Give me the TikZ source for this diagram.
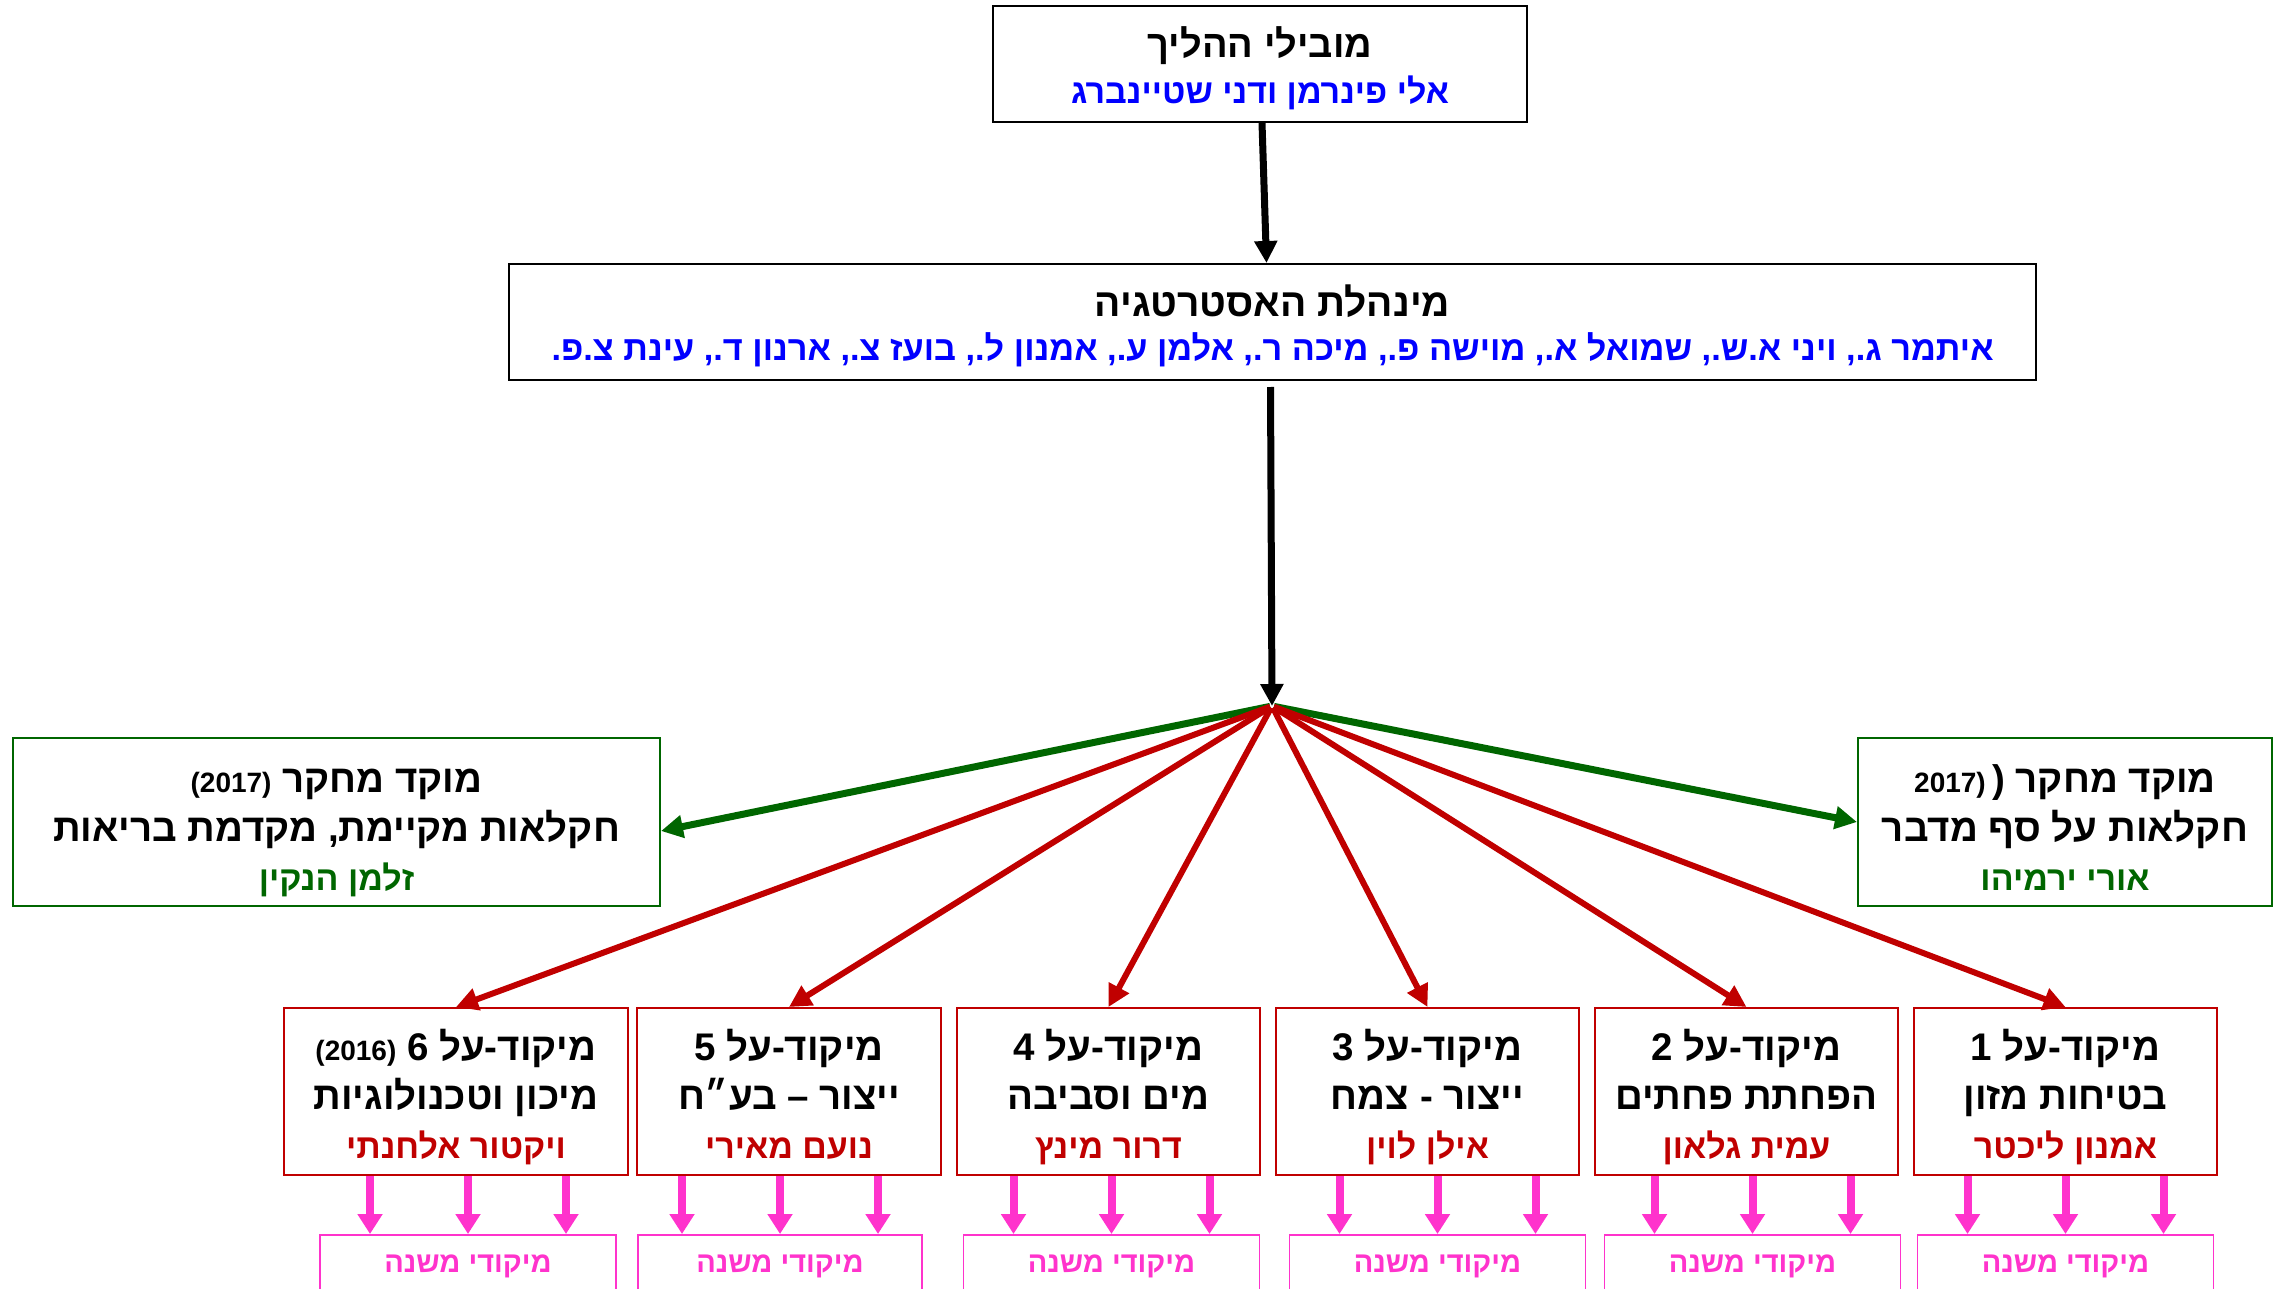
\documentclass[tikz,border=0pt]{standalone}
\usepackage{fontspec}
\setmainfont{Liberation Sans}[Script=Hebrew]
\TeXXeTstate=1
\usetikzlibrary{positioning,arrows.meta}
\definecolor{nameblue}{RGB}{0,0,255}
\definecolor{resgreen}{RGB}{0,102,0}
\definecolor{focred}{RGB}{192,0,0}
\definecolor{subpink}{RGB}{255,51,204}
\newcommand{\hebl}[1]{\beginR#1\endR}
\newcommand{\numl}[1]{\beginL#1\endL{}}
\newcommand{\fs}[2]{\fontsize{#1}{#2}\selectfont}
\newcommand{\hup}[1]{\rule{0pt}{#1pt}}
\newcommand{\hdn}[1]{\rule[-#1pt]{0pt}{#1pt}}

\begin{document}
\begin{tikzpicture}[x=1pt,y=1pt,>={Triangle[length=22pt,width=22pt]},
    box/.style={draw,rectangle,align=center,inner sep=0pt,line width=2pt,font=\fs{38.5}{49}\bfseries},
    head box/.style={box,minimum width=534pt,minimum height=116pt,font=\fs{38}{46}\bfseries},
    board box/.style={box,minimum width=1527pt,minimum height=116pt,font=\fs{39}{44}\bfseries},
    research box/.style={box,draw=resgreen,minimum height=168pt},
    focus box/.style={box,draw=focred,minimum width=303pt,minimum height=167pt},
    sub box/.style={box,draw=subpink,text=subpink,line width=1.6pt,minimum width=296pt,minimum height=64pt,font=\fs{29}{35}\bfseries},
    main arrow/.style={->,line width=7pt},
    green arrow/.style={->,line width=7pt,draw=resgreen,shorten <=2pt},
    red arrow/.style={->,line width=6pt,draw=focred,shorten <=2pt},
    sub arrow/.style={->,line width=8pt,draw=subpink,>={Triangle[length=20pt,width=24pt]}}]
    \useasboundingbox (0,0) rectangle (2274,-1289);
    \clip (0,0) rectangle (2274,-1289);

    % top of the chart
    \node[head box] (lead) at (1260,-64)
        {\hup{43}\hebl{מובילי ההליך}\\
         \fs{34}{46}\color{nameblue}\hebl{אלי פינרמן ודני שטיינברג}\hdn{10}};
    \node[board box] (board) at (1272.5,-322)
        {\hup{42}\hebl{מינהלת האסטרטגיה}\\
         \fs{34.3}{44}\color{nameblue}\hebl{איתמר ג., ויני א.ש., שמואל א., מוישה פ., מיכה ר., אלמן ע., אמנון ל., בועז צ., ארנון ד., עינת צ.פ.}\hdn{10}};
    \coordinate (hub) at (1272,-706);

    % research centres
    \node[research box,minimum width=647pt] (resL) at (336.5,-822)
        {\hup{48}\hebl{מוקד מחקר \numl{\fs{28}{49}(2017)}}\\
         \hebl{חקלאות מקיימת, מקדמת בריאות}\\
         \fs{34}{49}\color{resgreen}\hebl{זלמן הנקין}\hdn{10}};
    \node[research box,minimum width=414pt] (resR) at (2065,-822)
        {\hup{48}\hebl{מוקד מחקר \numl{{\fs{28}{49}(2017}\,(}}\\
         \hebl{חקלאות על סף מדבר}\\
         \fs{34}{49}\color{resgreen}\hebl{אורי ירמיהו}\hdn{10}};

    % focus areas
    \node[focus box] (F1) at (2065.5,-1091.5)
        {\hup{45}\hebl{מיקוד-על 1}\\ \hebl{בטיחות מזון}\\
         \fs{34}{49}\color{focred}\hebl{אמנון ליכטר}\hdn{10}};
    \node[focus box] (F2) [left=14pt of F1]
        {\hup{45}\hebl{מיקוד-על 2}\\ \hebl{הפחתת פחתים}\\
         \fs{34}{49}\color{focred}\hebl{עמית גלאון}\hdn{10}};
    \node[focus box] (F3) [left=14pt of F2]
        {\hup{45}\hebl{מיקוד-על 3}\\ \hebl{ייצור - צמח}\\
         \fs{34}{49}\color{focred}\hebl{אילן לוין}\hdn{10}};
    \node[focus box] (F4) [left=14pt of F3]
        {\hup{45}\hebl{מיקוד-על 4}\\ \hebl{מים וסביבה}\\
         \fs{34}{49}\color{focred}\hebl{דרור מינץ}\hdn{10}};
    \node[focus box,minimum width=304pt] (F5) [left=14pt of F4]
        {\hup{45}\hebl{מיקוד-על 5}\\ \hebl{ייצור – בע״ח}\\
         \fs{34}{49}\color{focred}\hebl{נועם מאירי}\hdn{10}};
    \node[focus box,minimum width=344pt] (F6) [left=7pt of F5]
        {\hup{45}\hebl{מיקוד-על 6 \numl{\fs{28}{49}(2016)}}\\ \hebl{מיכון וטכנולוגיות}\\
         \fs{34}{49}\color{focred}\hebl{ויקטור אלחנתי}\hdn{10}};

    % sub focus boxes
    \node[sub box] (S1) [below=58pt of F1] {\hebl{מיקודי משנה}};
    \node[sub box] (S2) [below=58pt of F2, xshift=6pt] {\hebl{מיקודי משנה}};
    \node[sub box] (S3) [below=58pt of F3, xshift=10pt] {\hebl{מיקודי משנה}};
    \node[sub box] (S4) [below=58pt of F4, xshift=3pt] {\hebl{מיקודי משנה}};
    \node[sub box,minimum width=284pt] (S5) [below=58pt of F5, xshift=-9pt] {\hebl{מיקודי משנה}};
    \node[sub box] (S6) [below=58pt of F6, xshift=12pt] {\hebl{מיקודי משנה}};

    % connectors
    \draw[main arrow] ([xshift=2pt]lead.south) -- ([xshift=-6pt]board.north);
    \draw[main arrow] ([xshift=-2pt,yshift=-6pt]board.south) -- (hub);
    \draw[green arrow] (hub) -- ([yshift=-9pt]resL.east);
    \draw[green arrow] (hub) -- (resR.west);
    \foreach \f in {1,...,6}
        \draw[red arrow] (hub) -- (F\f.north);
    \foreach \f in {1,...,6}
        \foreach \d in {-98,0,98}
            \draw[sub arrow] ([xshift=\d pt]S\f.north |- F\f.south) -- ([xshift=\d pt]S\f.north);
\end{tikzpicture}
\end{document}
